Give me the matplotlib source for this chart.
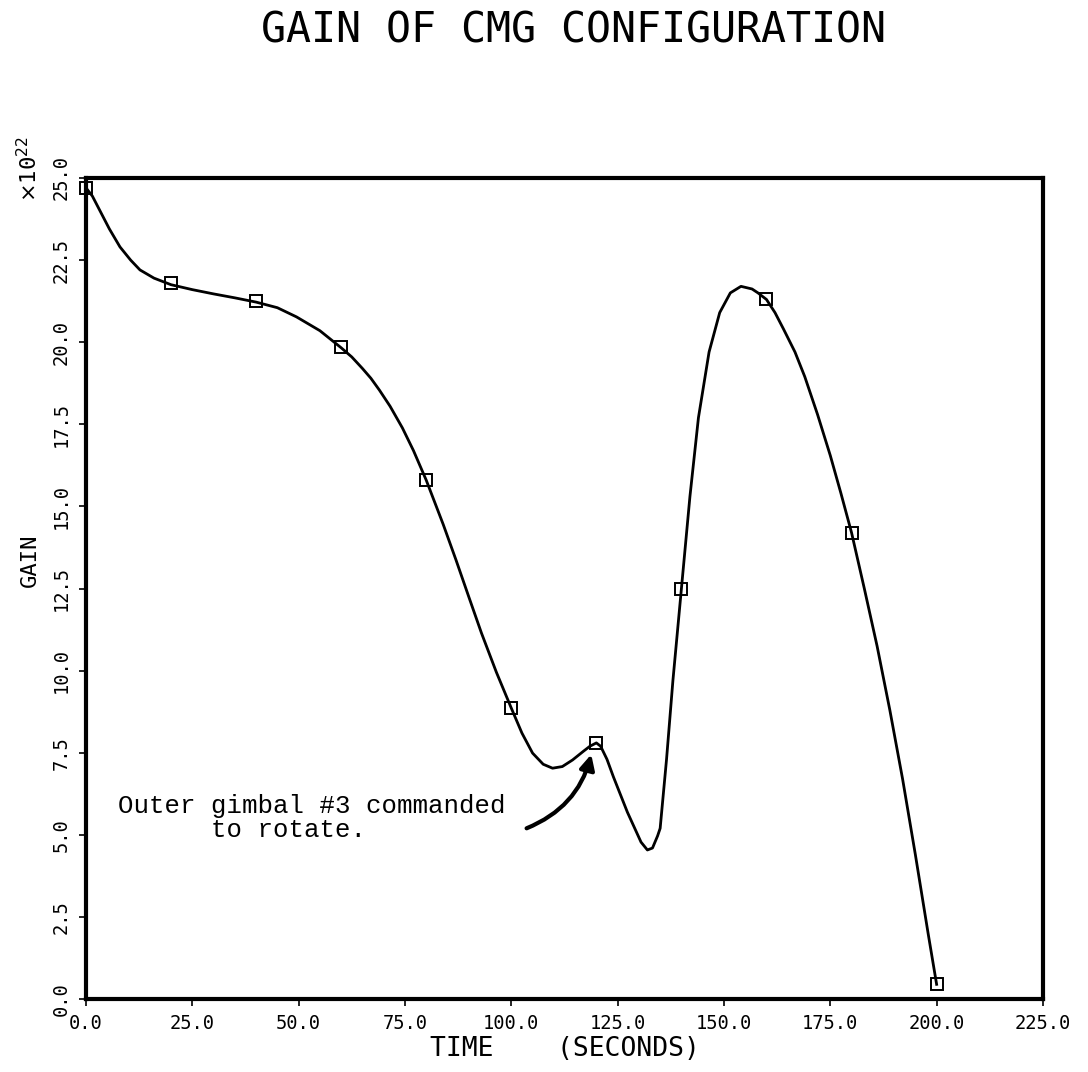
import matplotlib
matplotlib.use("Agg")
import matplotlib.pyplot as plt

# Sampled markers (every 20 s)
marker_t = [0, 20, 40, 60, 80, 100, 120, 140, 160, 180, 200]
marker_gain = [24.7, 21.8, 21.25, 19.85, 15.8, 8.85, 7.8, 12.5, 21.3, 14.2, 0.45]

# Curve points
curve_t = [0, 1.5, 3.3, 5.5, 8, 10.5, 12.7, 16, 20, 25, 30, 35, 40, 45, 49.5, 55, 60,
           62.5, 65, 67, 69, 71.5, 74.4, 77, 80, 84, 87, 90, 93, 96.5, 100, 102.5, 105,
           107.5, 109.7, 112, 114.4, 117, 118.5, 120, 121, 122.5, 124, 127.3, 130.5, 132,
           133.2, 134.4, 135, 136.5, 138, 140, 142, 144, 146.5, 149, 151.5, 154, 156.6,
           158, 160, 162, 164, 166.7, 169, 172, 175, 177.5, 180, 183, 186, 189, 192, 195,
           198, 200]
curve_gain = [24.7, 24.45, 24.0, 23.45, 22.9, 22.5, 22.2, 21.95, 21.75, 21.6, 21.47, 21.35,
              21.22, 21.05, 20.77, 20.35, 19.83, 19.55, 19.2, 18.9, 18.54, 18.05, 17.39,
              16.7, 15.8, 14.45, 13.37, 12.25, 11.14, 9.95, 8.86, 8.1, 7.49, 7.15, 7.03,
              7.08, 7.28, 7.55, 7.7, 7.8, 7.7, 7.3, 6.77, 5.69, 4.78, 4.54, 4.6, 4.97, 5.2,
              7.3, 9.7, 12.5, 15.3, 17.7, 19.7, 20.9, 21.5, 21.7, 21.62, 21.5, 21.3, 20.9,
              20.4, 19.7, 18.95, 17.8, 16.55, 15.4, 14.2, 12.5, 10.75, 8.8, 6.7, 4.4, 2.0,
              0.45]

x_ticks = [0, 25, 50, 75, 100, 125, 150, 175, 200, 225]
y_ticks = [0, 2.5, 5, 7.5, 10, 12.5, 15, 17.5, 20, 22.5, 25]

mono = "DejaVu Sans Mono"

fig = plt.figure(figsize=(10.88, 10.72), dpi=100)
ax = fig.add_axes([0.079, 0.068, 0.8796, 0.766])

ax.plot(curve_t, curve_gain, color="black", lw=2.0, zorder=3, solid_joinstyle="round")
ax.plot(marker_t, marker_gain, linestyle="none", marker="s", markersize=8.5,
        markerfacecolor="none", markeredgecolor="black", markeredgewidth=1.4, zorder=4,
        clip_on=False)

ax.set_xlim(0, 225)
ax.set_ylim(0, 25)
ax.set_xticks(x_ticks)
ax.set_yticks(y_ticks)
ax.set_xticklabels([f"{v:.1f}" for v in x_ticks], fontfamily=mono, fontsize=13.5)
ax.set_yticklabels([f"{v:.1f}" for v in y_ticks], fontfamily=mono, fontsize=13.5,
                   rotation=90, va="center")
ax.tick_params(direction="out", length=5, width=1.2, pad=6)
for s in ax.spines.values():
    s.set_linewidth(3)

ax.set_xlabel("TIME    (SECONDS)", fontfamily=mono, fontsize=19, labelpad=2)
ax.set_ylabel("GAIN", fontfamily=mono, fontsize=16, labelpad=8)
ax.yaxis.set_label_coords(-0.048, 0.535)

fig.text(0.527, 0.972, "GAIN OF CMG CONFIGURATION", fontfamily=mono, fontsize=30,
         ha="center", va="center")
fig.text(0.026, 0.842, r"$\times\mathregular{10}^{22}$", fontfamily=mono, fontsize=16,
         rotation=90, ha="center", va="center")

ax.text(7.6, 5.5, "Outer gimbal #3 commanded\n      to rotate.", fontfamily="Liberation Mono",
        fontsize=18.5, ha="left", va="center", linespacing=1.0)
ax.annotate("", xy=(118.8, 7.45), xytext=(103.6, 5.2),
            arrowprops=dict(arrowstyle="-|>", color="black", lw=3, mutation_scale=22,
                            connectionstyle="arc3,rad=0.25", shrinkA=0, shrinkB=0))

fig.savefig("out.png", dpi=100, facecolor="white")
